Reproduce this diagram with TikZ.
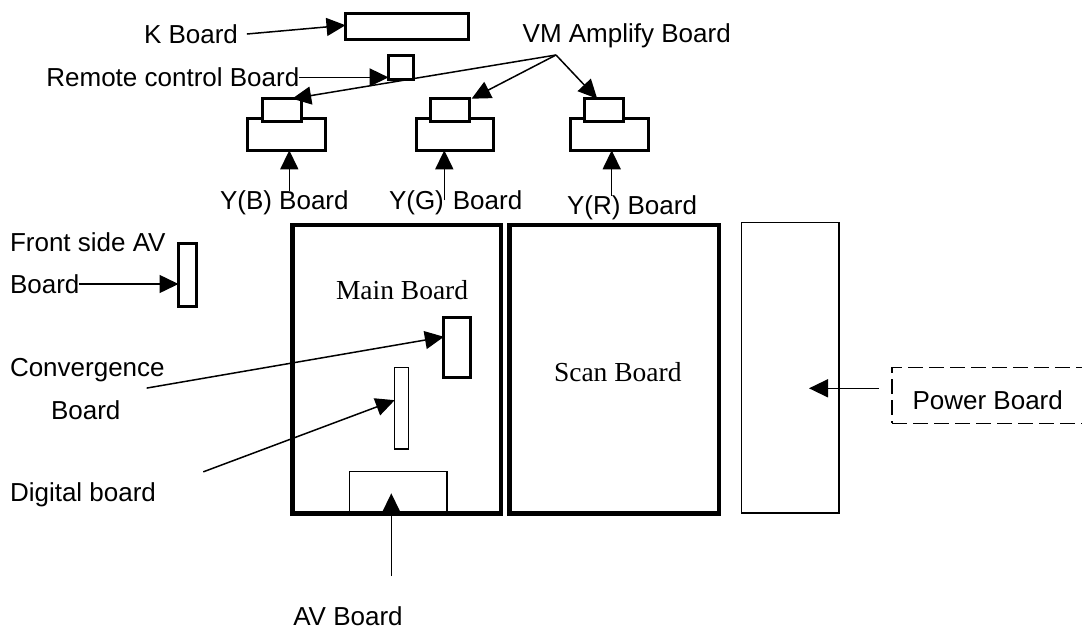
\documentclass[tikz,border=0pt]{standalone}
\usepackage{fontspec}
\setmainfont{Liberation Sans}
\newfontfamily\serifface{Liberation Serif}
\usetikzlibrary{arrows.meta,calc}
\begin{document}
\begin{tikzpicture}[x=1pt,y=-1pt,
  lbl/.style={anchor=base west,inner sep=0pt,outer sep=0pt,font=\fontsize{26}{30}\selectfont},
  slbl/.style={anchor=base west,inner sep=0pt,outer sep=0pt,font=\serifface\fontsize{27.5}{30}\selectfont},
  bigbox/.style={draw,line width=4.5pt,inner sep=0pt,outer sep=0pt},
  midbox/.style={draw,fill=white,line width=3pt,inner sep=0pt,outer sep=0pt},
  thinbox/.style={draw,line width=1.5pt,inner sep=0pt,outer sep=0pt},
  dashbox/.style={draw,line width=1.5pt,dash pattern=on 15pt off 6pt,inner sep=0pt,outer sep=0pt},
  arr/.style={line width=1.5pt,-{Triangle[length=19pt,width=18pt]}},
  plain/.style={line width=1.5pt}]
\useasboundingbox (0,0) rectangle (1082,631);
\clip (0,0) rectangle (1082,631);
\fill[white] (0,0) rectangle (1082,631);

% ---- top boards ----
\node[midbox,minimum width=123.2pt,minimum height=25.5pt] (kb) at (407.1,26.75) {};
\node[lbl] (ktext) at (144,43.3) {K Board};
\node[midbox,minimum width=25.3pt,minimum height=24.3pt] (rc) at (401.15,67.65) {};
\node[lbl] (rctext) at (46.4,86.7) {Remote control Board};
\node[lbl] (vmtext) at (522.7,42.5) {VM Amplify Board};

% ---- Y boards ----
\node[midbox,minimum width=77.4pt,minimum height=31.6pt] (bl) at (286.5,134.5) {};
\node[midbox,minimum width=38.8pt,minimum height=22.6pt] (bu) at (281.7,110) {};
\node[midbox,minimum width=77.4pt,minimum height=31.6pt] (gl) at (454.8,134.5) {};
\node[midbox,minimum width=38.8pt,minimum height=22.6pt] (gu) at (450.2,110) {};
\node[midbox,minimum width=77.4pt,minimum height=31.6pt] (rl) at (609.5,134.5) {};
\node[midbox,minimum width=38.8pt,minimum height=22.6pt] (ru) at (604.2,110) {};
\node[lbl] (ybtext) at (220,210) {Y(B) Board};
\node[lbl] (ygtext) at (389,210) {Y(G)\hspace{9pt}Board};
\node[lbl] (yrtext) at (567,215) {Y(R) Board};

% ---- left side ----
\node[midbox,minimum width=17.5pt,minimum height=62pt] (fa) at (187.25,275) {};
\node[lbl] (fatext) at (10,251.7) {Front side AV};
\node[lbl] (fbtext) at (10,293.3) {Board};
\node[lbl] (cvtext) at (10,376.7) {Convergence};
\node[lbl] (cbtext) at (51,419) {Board};
\node[lbl] (dgtext) at (10,501.7) {Digital board};

% ---- main, scan, power ----
\node[thinbox,minimum width=97.2pt,minimum height=42.1pt] (avr) at (398.3,492.45) {};
\node[bigbox,minimum width=208.5pt,minimum height=288.5pt] (mb) at (396.75,369.25) {};
\node[bigbox,minimum width=209.3pt,minimum height=288.5pt] (sb) at (614.35,369.25) {};
\node[thinbox,minimum width=97.5pt,minimum height=290.7pt] (pwr) at (790.25,367.85) {};
\node[midbox,minimum width=26.1pt,minimum height=60pt] (cv) at (456.95,347) {};
\node[thinbox,minimum width=13.9pt,minimum height=81.7pt] (dg) at (401.65,408.35) {};
\node[slbl] (mbtext) at (336,299) {Main Board};
\node[slbl] (sbtext) at (554,381.7) {Scan Board};
\node[lbl] (avtext) at (293.3,625) {AV Board};

% ---- power board ----
\node[dashbox,minimum width=208pt,minimum height=55.6pt] (pbox) at (996,395.5) {};
\node[lbl] (pbtext) at (912.6,409) {Power Board};

% ---- connectors ----
\draw[arr] ([xshift=9pt]ktext.east) -- ([yshift=1.5pt]kb.west);
\draw[arr] (rctext.east) -- (rctext.east -| rc.west);

\coordinate (vm) at (556,55);
\draw[arr] (vm) -- ($(bu.north west)!0.77!(bu.north east)$);
\draw[arr] (vm) -- ($(gu.north east)+(2,0)$);
\draw[arr] (vm) -- ($(ru.north west)!0.32!(ru.north east)$);

\coordinate (ybtip) at ($(bl.south)+(2.8,0)$);
\coordinate (ygtip) at ($(gl.south)+(-10.5,0)$);
\coordinate (yrtip) at ($(rl.south)+(2.2,0)$);
\draw[arr] (ybtext.north -| ybtip) -- (ybtip);
\draw[arr] ($(ygtip)+(0,50)$) -- (ygtip);
\draw[arr] (yrtext.north -| yrtip) -- (yrtip);

\draw[arr] (fbtext.east) -- (fbtext.east -| fa.west);

\coordinate (cvtail) at ($(cvtext.south east)+(-18,6)$);
\draw[arr] (cvtail) -- ($(cv.north west)!0.33!(cv.south west)$);

\coordinate (dgtail) at ($(dgtext.north east)+(47.3,-11)$);
\draw[arr] (dgtail) -- ($(dg.north west)!0.4!(dg.south west)$);

\coordinate (avtail) at ($(avr.south)+(-7,62.5)$);
\draw[arr] (avtail) -- ($(avr.south)+(-7,-20.2)$);

\coordinate (pwtail) at ($(pbox.west)+(-13,-7.2)$);
\draw[arr] (pwtail) -- ($(pwtail -| pwr.east)+(-30,0)$);
\end{tikzpicture}
\end{document}
